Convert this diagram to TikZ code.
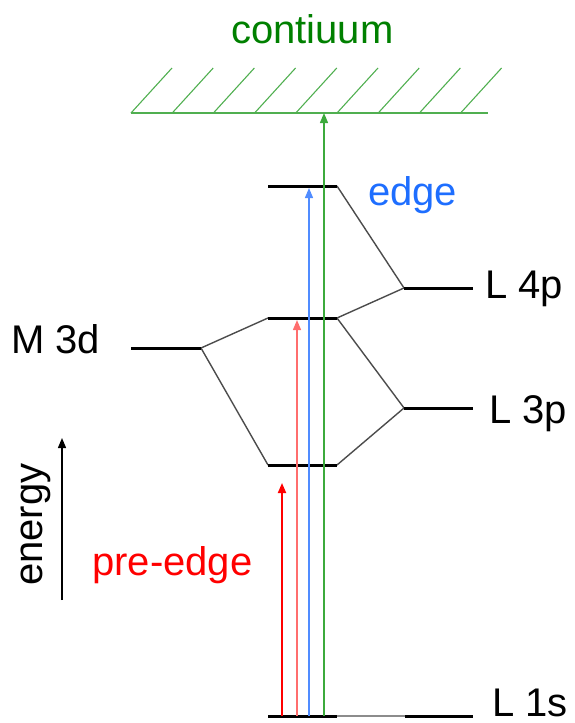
\documentclass[tikz,border=0pt]{standalone}
\usepackage{fontspec}
\setmainfont{Liberation Sans}
\usetikzlibrary{arrows.meta,calc}
\definecolor{cgreen}{RGB}{0,128,0}
\definecolor{lgreen}{RGB}{60,170,60}
\definecolor{hgreen}{RGB}{80,175,80}
\definecolor{cblue}{RGB}{30,110,255}
\definecolor{lblue}{RGB}{80,140,255}
\definecolor{cred}{RGB}{255,0,0}
\definecolor{lred}{RGB}{255,110,110}
\tikzset{
  lvl/.style={line width=3pt, black},
  conn/.style={line width=1.4pt, black!70},
  txt/.style={inner sep=0pt, anchor=base west, font=\fontsize{40}{44}\selectfont},
  tip/.style={-{Triangle[length=10pt,width=8pt]}},
}
\begin{document}
\begin{tikzpicture}[x=1pt,y=-1pt]
\useasboundingbox (0,0) rectangle (574,723);
% level coordinates
\coordinate (topL) at (268,186); \coordinate (topR) at (337,186);
\coordinate (midL) at (268,318); \coordinate (midR) at (337,318);
\coordinate (lowL) at (268,465); \coordinate (lowR) at (337,465);
\coordinate (m3dL) at (131,348); \coordinate (m3dR) at (201,348);
\coordinate (l4pL) at (404,288); \coordinate (l4pR) at (473,288);
\coordinate (l3pL) at (404,408); \coordinate (l3pR) at (473,408);
\coordinate (s1L) at (268,716); \coordinate (s1M) at (337,716);
\coordinate (s2L) at (405,716); \coordinate (s2R) at (473,716);
\coordinate (contL) at (131,113); \coordinate (contR) at (488,113);
% continuum
\draw[hgreen, line width=1.3pt] (contL) -- (contR);
\foreach \i in {0,...,8}{
  \draw[hgreen, line width=1.1pt] ($(contL)+(41.2*\i,0)$) -- ++(41,-45);
}
% connectors
\draw[conn] (topR) -- (l4pL);
\draw[conn] (midR) -- (l4pL);
\draw[conn] (midR) -- (l3pL);
\draw[conn] (lowR) -- (l3pL);
\draw[conn] (midL) -- (m3dR);
\draw[conn] (lowL) -- (m3dR);
\draw[line width=1.2pt, black!45] (s1M) -- (s2L);
% levels
\draw[lvl] (topL) -- (topR);
\draw[lvl] (midL) -- (midR);
\draw[lvl] (lowL) -- (lowR);
\draw[lvl] (m3dL) -- (m3dR);
\draw[lvl] (l4pL) -- (l4pR);
\draw[lvl] (l3pL) -- (l3pR);
\draw[lvl] (s1L) -- (s1M);
\draw[lvl] (s2L) -- (s2R);
% transitions
\coordinate (a1b) at (282,716); \coordinate (a1t) at (282,483);
\coordinate (a2b) at (297,716); \coordinate (a2t) at (297,320);
\coordinate (a3b) at (309,716); \coordinate (a3t) at (309,188);
\coordinate (a4b) at (324,716); \coordinate (a4t) at (324,113);
\draw[tip, cred, line width=1.8pt] (a1b) -- (a1t);
\draw[tip, lred, line width=1.3pt] (a2b) -- (a2t);
\draw[tip, lblue, line width=1.3pt] (a3b) -- (a3t);
\draw[tip, lgreen, line width=1.3pt] (a4b) -- (a4t);
% energy axis
\coordinate (eb) at (62,600); \coordinate (et) at (62,438);
\draw[tip, black, line width=1.3pt] (eb) -- (et);
% labels
\node[txt, cgreen] (cont) at (231,43) {contiuum};
\node[txt, cblue] (edge) at (368,205) {edge};
\node[txt, cred] (pre) at (92,575) {pre-edge};
\node[txt] (m3d) at (11,353) {M 3d};
\node[txt] (l4p) at (485,298) {L 4p};
\node[txt] (l3p) at (489,423) {L 3p};
\node[txt] (l1s) at (492,716) {L 1s};
\node[txt, rotate=90] (en) at (42,586) {energy};
\end{tikzpicture}
\end{document}
